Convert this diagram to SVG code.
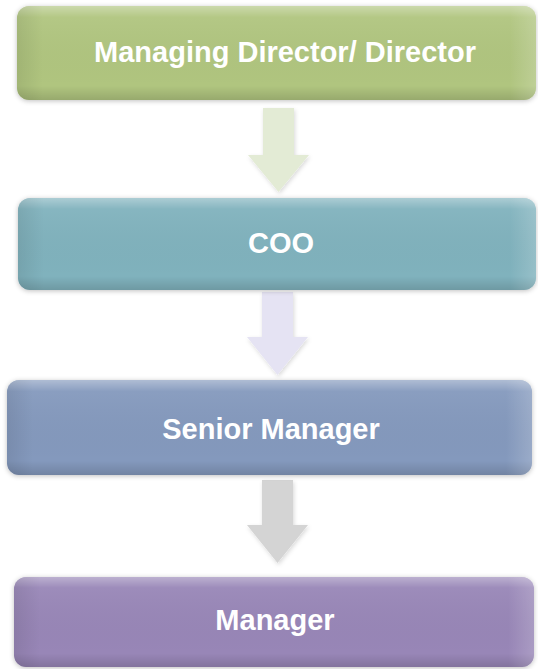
<svg xmlns="http://www.w3.org/2000/svg" width="538" height="669" viewBox="0 0 538 669">
  <defs>
    <filter id="softShadow" x="-10%" y="-20%" width="120%" height="140%">
      <feGaussianBlur in="SourceAlpha" stdDeviation="2.5"/>
      <feOffset dx="0" dy="1" result="blur"/>
      <feFlood flood-color="#000" flood-opacity="0.25"/>
      <feComposite in2="blur" operator="in"/>
      <feMerge>
        <feMergeNode/>
        <feMergeNode in="SourceGraphic"/>
      </feMerge>
    </filter>
    <filter id="arrowShadow" x="-30%" y="-20%" width="160%" height="140%">
      <feGaussianBlur in="SourceAlpha" stdDeviation="2"/>
      <feOffset dx="1" dy="2" result="blur"/>
      <feFlood flood-color="#000" flood-opacity="0.15"/>
      <feComposite in2="blur" operator="in"/>
      <feMerge>
        <feMergeNode/>
        <feMergeNode in="SourceGraphic"/>
      </feMerge>
    </filter>
    <!-- bevel shading laid over each box -->
    <linearGradient id="bevelV" x1="0" y1="0" x2="0" y2="1">
      <stop offset="0" stop-color="#fff" stop-opacity="0.35"/>
      <stop offset="0.12" stop-color="#fff" stop-opacity="0.05"/>
      <stop offset="0.85" stop-color="#000" stop-opacity="0"/>
      <stop offset="1" stop-color="#000" stop-opacity="0.14"/>
    </linearGradient>
    <linearGradient id="bevelH" x1="0" y1="0" x2="1" y2="0">
      <stop offset="0" stop-color="#000" stop-opacity="0.08"/>
      <stop offset="0.05" stop-color="#000" stop-opacity="0"/>
      <stop offset="0.95" stop-color="#fff" stop-opacity="0"/>
      <stop offset="1" stop-color="#fff" stop-opacity="0.18"/>
    </linearGradient>
  </defs>
  <style>
    .label { font-family: "Liberation Sans", Arial, sans-serif; font-weight: bold; font-size: 29px; fill: #ffffff; text-anchor: middle; dominant-baseline: central; }
    .box { filter: url(#softShadow); }
    .arrow { filter: url(#arrowShadow); }
  </style>

  <g id="connectors">
    <path class="arrow" d="M263 108 H294 V155 H309 L278.5 192 L248 155 H263 Z" fill="#e3ebd5"/>
    <path class="arrow" d="M262 292 H293 V337 H308 L277.5 375 L247 337 H262 Z" fill="#e5e3f3"/>
    <path class="arrow" d="M262 480 H293 V525 H308 L277.5 563 L247 525 H262 Z" fill="#d4d4d4"/>
  </g>

  <g id="managing-director">
    <rect class="box" x="17" y="6" width="519" height="94" rx="12" fill="#b0c57f"/>
    <rect x="17" y="6" width="519" height="94" rx="12" fill="url(#bevelV)"/>
    <rect x="17" y="6" width="519" height="94" rx="12" fill="url(#bevelH)"/>
    <text class="label" x="285" y="52">Managing Director/ Director</text>
  </g>

  <g id="coo">
    <rect class="box" x="18" y="198" width="518" height="92" rx="12" fill="#80b2bd"/>
    <rect x="18" y="198" width="518" height="92" rx="12" fill="url(#bevelV)"/>
    <rect x="18" y="198" width="518" height="92" rx="12" fill="url(#bevelH)"/>
    <text class="label" x="281" y="243">COO</text>
  </g>

  <g id="senior-manager">
    <rect class="box" x="7" y="380" width="525" height="95" rx="12" fill="#8499bd"/>
    <rect x="7" y="380" width="525" height="95" rx="12" fill="url(#bevelV)"/>
    <rect x="7" y="380" width="525" height="95" rx="12" fill="url(#bevelH)"/>
    <text class="label" x="271" y="429">Senior Manager</text>
  </g>

  <g id="manager">
    <rect class="box" x="14" y="577" width="520" height="90" rx="12" fill="#9886b7"/>
    <rect x="14" y="577" width="520" height="90" rx="12" fill="url(#bevelV)"/>
    <rect x="14" y="577" width="520" height="90" rx="12" fill="url(#bevelH)"/>
    <text class="label" x="275" y="620">Manager</text>
  </g>
</svg>
